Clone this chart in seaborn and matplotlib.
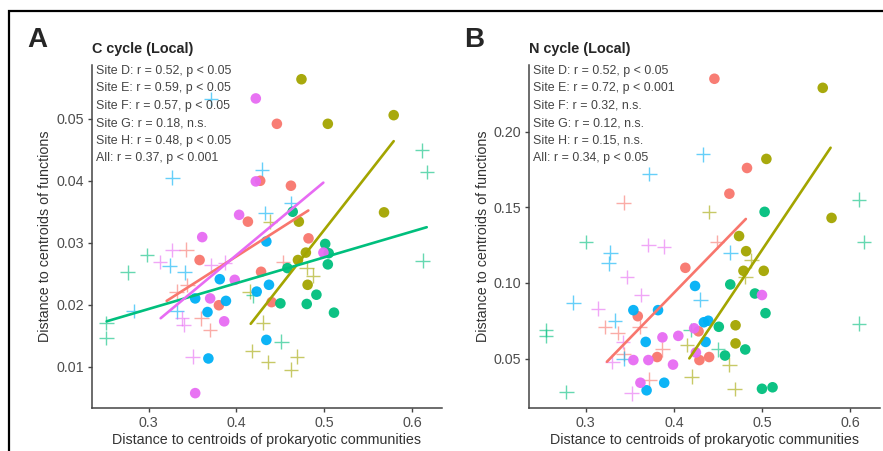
import pandas as pd
import matplotlib
matplotlib.use("Agg")
import matplotlib.pyplot as plt
import matplotlib.patches as mpatches
import seaborn as sns

# Site colours (ggplot default hue palette)
sites = ["D", "E", "F", "G", "H"]
site_colors = ["#F8766D", "#A3A500", "#00BF7D", "#00B0F6", "#E76BF3"]

# ---- Panel A: C cycle (Local) ----
c_dot_x = {
    "D": [0.446, 0.427, 0.462, 0.413, 0.482, 0.358, 0.428, 0.440, 0.380],
    "E": [0.474, 0.504, 0.579, 0.568, 0.471, 0.479, 0.470, 0.481],
    "F": [0.464, 0.501, 0.505, 0.504, 0.458, 0.491, 0.480, 0.450, 0.511],
    "G": [0.434, 0.381, 0.423, 0.437, 0.353, 0.388, 0.367, 0.434, 0.368],
    "H": [0.422, 0.422, 0.403, 0.361, 0.398, 0.499, 0.370, 0.386, 0.353],
}
c_dot_y = {
    "D": [0.0492, 0.0400, 0.0392, 0.0334, 0.0307, 0.0272, 0.0253, 0.0204, 0.0199],
    "E": [0.0564, 0.0492, 0.0506, 0.0349, 0.0334, 0.0284, 0.0272, 0.0232],
    "F": [0.0350, 0.0298, 0.0283, 0.0265, 0.0259, 0.0216, 0.0201, 0.0202, 0.0187],
    "G": [0.0302, 0.0241, 0.0221, 0.0232, 0.0210, 0.0206, 0.0188, 0.0143, 0.0113],
    "H": [0.0533, 0.0399, 0.0345, 0.0309, 0.0240, 0.0284, 0.0210, 0.0173, 0.0057],
}
c_plus_x = {
    "D": [0.343, 0.332, 0.344, 0.360, 0.370, 0.453],
    "E": [0.438, 0.480, 0.487, 0.415, 0.430, 0.418, 0.436, 0.469, 0.462],
    "F": [0.611, 0.617, 0.612, 0.298, 0.276, 0.252, 0.252, 0.419, 0.451],
    "G": [0.371, 0.327, 0.429, 0.462, 0.433, 0.324, 0.341, 0.283, 0.332],
    "H": [0.313, 0.327, 0.371, 0.387, 0.338, 0.340, 0.350],
}
c_plus_y = {
    "D": [0.0289, 0.0221, 0.0232, 0.0178, 0.0159, 0.0269],
    "E": [0.0334, 0.0259, 0.0247, 0.0221, 0.0171, 0.0125, 0.0107, 0.0116, 0.0095],
    "F": [0.0449, 0.0414, 0.0271, 0.0280, 0.0252, 0.0170, 0.0146, 0.0215, 0.0140],
    "G": [0.0532, 0.0405, 0.0418, 0.0364, 0.0348, 0.0263, 0.0252, 0.0190, 0.0189],
    "H": [0.0269, 0.0288, 0.0264, 0.0268, 0.0178, 0.0167, 0.0116],
}
# fitted lines (start, end) for significant sites
c_fit_x = {"D": [0.3205, 0.4818], "E": [0.4162, 0.5790], "F": [0.2522, 0.6166], "H": [0.3137, 0.4989]}
c_fit_y = {"D": [0.0206, 0.0352], "E": [0.0169, 0.0464], "F": [0.0173, 0.0325], "H": [0.0178, 0.0397]}
c_stats = [
    "Site D: r = 0.52, p < 0.05",
    "Site E: r = 0.59, p < 0.05",
    "Site F: r = 0.57, p < 0.05",
    "Site G: r = 0.18, n.s.",
    "Site H: r = 0.48, p < 0.05",
    "All: r = 0.37, p < 0.001",
]

# ---- Panel B: N cycle (Local) ----
n_dot_x = {
    "D": [0.446, 0.483, 0.463, 0.413, 0.359, 0.428, 0.381, 0.429, 0.440],
    "E": [0.569, 0.505, 0.579, 0.474, 0.482, 0.479, 0.502, 0.470, 0.470],
    "F": [0.503, 0.464, 0.492, 0.504, 0.451, 0.481, 0.458, 0.500, 0.512],
    "G": [0.424, 0.354, 0.382, 0.434, 0.439, 0.368, 0.436, 0.389, 0.369],
    "H": [0.500, 0.423, 0.387, 0.405, 0.354, 0.371, 0.399, 0.425, 0.362],
}
n_dot_y = {
    "D": [0.235, 0.176, 0.159, 0.110, 0.078, 0.068, 0.051, 0.049, 0.051],
    "E": [0.229, 0.182, 0.143, 0.131, 0.121, 0.108, 0.108, 0.072, 0.060],
    "F": [0.147, 0.099, 0.093, 0.080, 0.071, 0.056, 0.052, 0.030, 0.031],
    "G": [0.098, 0.082, 0.082, 0.074, 0.075, 0.061, 0.061, 0.034, 0.029],
    "H": [0.092, 0.070, 0.064, 0.065, 0.049, 0.049, 0.046, 0.054, 0.034],
}
n_plus_x = {
    "D": [0.343, 0.449, 0.322, 0.336, 0.361, 0.387, 0.343, 0.372],
    "E": [0.440, 0.488, 0.481, 0.415, 0.463, 0.420, 0.469],
    "F": [0.300, 0.255, 0.255, 0.278, 0.610, 0.616, 0.610, 0.450, 0.419],
    "G": [0.433, 0.372, 0.328, 0.326, 0.464, 0.430, 0.286, 0.333, 0.343],
    "H": [0.371, 0.389, 0.347, 0.363, 0.314, 0.342, 0.330, 0.352],
}
n_plus_y = {
    "D": [0.153, 0.127, 0.071, 0.067, 0.071, 0.056, 0.053, 0.036],
    "E": [0.147, 0.115, 0.104, 0.059, 0.046, 0.038, 0.030],
    "F": [0.127, 0.069, 0.065, 0.028, 0.155, 0.127, 0.073, 0.056, 0.069],
    "G": [0.185, 0.172, 0.120, 0.113, 0.120, 0.089, 0.087, 0.075, 0.050],
    "H": [0.125, 0.124, 0.104, 0.092, 0.083, 0.061, 0.048, 0.027],
}
n_fit_x = {"D": [0.3240, 0.4817], "E": [0.4175, 0.5779]}
n_fit_y = {"D": [0.0479, 0.1423], "E": [0.0501, 0.1894]}
n_stats = [
    "Site D: r = 0.52, p < 0.05",
    "Site E: r = 0.72, p < 0.001",
    "Site F: r = 0.32, n.s.",
    "Site G: r = 0.12, n.s.",
    "Site H: r = 0.15, n.s.",
    "All: r = 0.34, p < 0.05",
]

x_ticks = [0.3, 0.4, 0.5, 0.6]
c_yticks = [0.01, 0.02, 0.03, 0.04, 0.05]
n_yticks = [0.05, 0.10, 0.15, 0.20]


def to_long(xs, ys):
    rows = []
    for s in xs:
        for x, y in zip(xs[s], ys[s]):
            rows.append({"site": s, "x": x, "y": y})
    return pd.DataFrame(rows)


sns.set_style("ticks")
plt.rcParams["font.family"] = ["Liberation Sans", "DejaVu Sans"]
pal = dict(zip(sites, site_colors))

fig = plt.figure(figsize=(8.83, 4.51), dpi=100)
ax_c = fig.add_axes([92 / 883, 43 / 451, 350 / 883, 343 / 451])
ax_n = fig.add_axes([529 / 883, 43 / 451, 351 / 883, 343 / 451])

panels = [
    (ax_c, c_dot_x, c_dot_y, c_plus_x, c_plus_y, c_fit_x, c_fit_y, c_stats,
     c_yticks, "%.2f", (0.0033, 0.0587), "C cycle (Local)", "A", -0.115),
    (ax_n, n_dot_x, n_dot_y, n_plus_x, n_plus_y, n_fit_x, n_fit_y, n_stats,
     n_yticks, "%.2f", (0.0173, 0.2441), "N cycle (Local)", "B", -0.111),
]

for (ax, dx, dy, px, py, fx, fy, stats, yticks, fmt, ylim,
     title, letter, ylab_x) in panels:
    dots = to_long(dx, dy)
    plus = to_long(px, py)
    fit = to_long(fx, fy)

    sns.scatterplot(data=plus, x="x", y="y", hue="site", palette=pal, marker="+",
                    s=110, linewidth=1.0, alpha=0.6, legend=False, ax=ax, zorder=2)
    sns.scatterplot(data=dots, x="x", y="y", hue="site", palette=pal, marker="o",
                    s=58, edgecolor="none", alpha=0.95, legend=False, ax=ax, zorder=3)
    sns.lineplot(data=fit, x="x", y="y", hue="site", palette=pal, linewidth=1.9,
                 estimator=None, sort=False, legend=False, ax=ax, zorder=4)

    ax.set_xlim(0.2355, 0.6340)
    ax.set_ylim(*ylim)
    ax.set_xticks(x_ticks)
    ax.set_xticklabels(["%.1f" % t for t in x_ticks])
    ax.set_yticks(yticks)
    ax.set_yticklabels([fmt % t for t in yticks])
    ax.tick_params(axis="both", labelsize=10.3, labelcolor="#4D4D4D", color="#444444",
                   length=3, width=1.0, pad=2.5)
    sns.despine(ax=ax)
    for sp in ["left", "bottom"]:
        ax.spines[sp].set_color("#444444")
        ax.spines[sp].set_linewidth(1.1)

    ax.set_xlabel("Distance to centroids of prokaryotic communities", fontsize=10.3, color="#333333")
    ax.set_ylabel("Distance to centroids of functions", fontsize=10.3, color="#333333")
    ax.xaxis.set_label_coords(0.5, -0.073)
    ax.yaxis.set_label_coords(ylab_x, 0.5)

    for i, line in enumerate(stats):
        ax.text(0.011, 0.9825 - i * 0.0507, line, transform=ax.transAxes, fontsize=8.9,
                color="#444444", ha="left", va="center", zorder=5)

    pos = ax.get_position()
    fig.text(pos.x0 - 0.0005, 1 - 49.3 / 451, title, fontsize=10.4, fontweight="bold",
             ha="left", va="center")
    fig.text(pos.x0 - 65 / 883, 1 - 40 / 451, letter, fontsize=20, fontweight="bold",
             ha="left", va="center")

# outer frame (cropped on the right and bottom)
fig.add_artist(mpatches.Rectangle((8.5 / 883, -0.1), 1.2, 1 - 11 / 451 + 0.1,
                                  transform=fig.transFigure, fill=False,
                                  edgecolor="black", linewidth=1.6, clip_on=False))

fig.savefig("out.png", dpi=100)
plt.close(fig)
